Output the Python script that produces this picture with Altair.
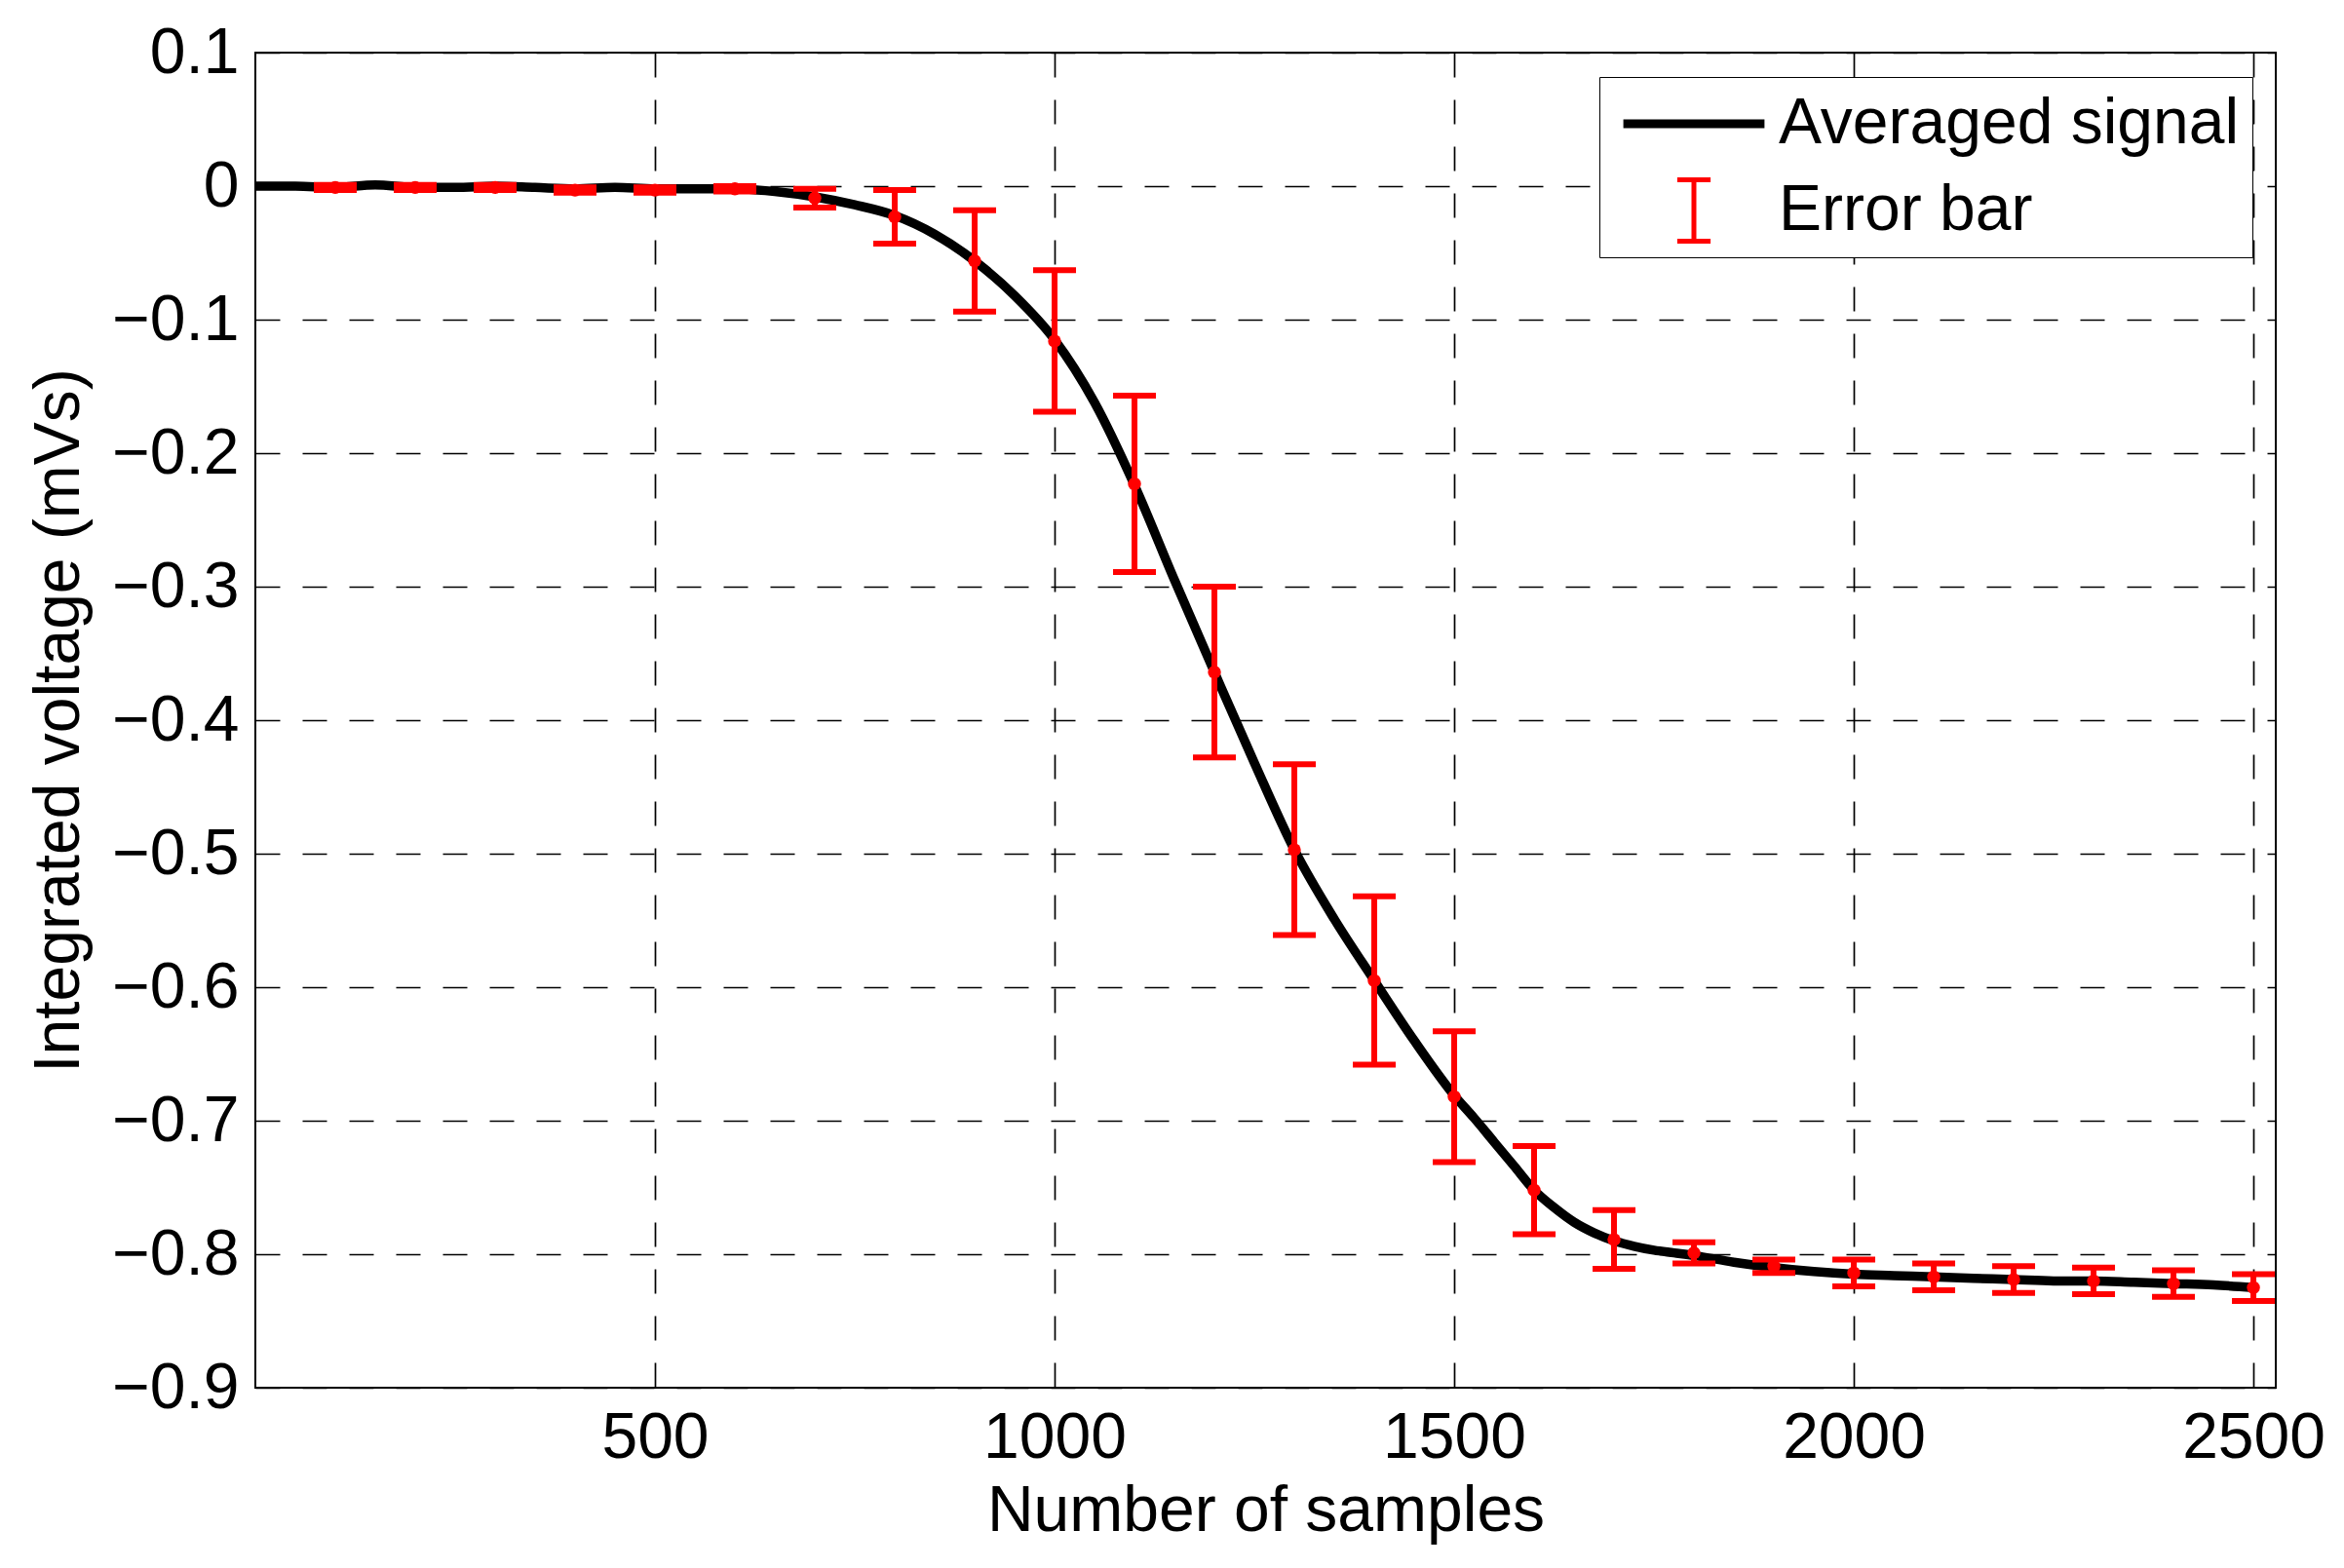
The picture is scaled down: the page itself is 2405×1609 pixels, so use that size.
import altair as alt
import pandas as pd

# ---- data ----
line_x = [0, 50, 100, 150, 200, 250, 300, 350, 400, 450,
          500, 550, 600, 650, 700, 750, 800, 850, 900, 950,
          1000, 1050, 1100, 1150, 1200, 1250, 1300, 1350, 1400, 1450,
          1500, 1525, 1550, 1575, 1600, 1625, 1650, 1675, 1700, 1725,
          1750, 1775, 1800, 1850, 1900, 1950, 2000, 2050, 2100, 2150,
          2200, 2250, 2300, 2350, 2400, 2450, 2500]
line_y = [0.000, 0.000, -0.001, 0.001, -0.001, -0.001, 0.000, -0.001, -0.002, -0.001,
          -0.002, -0.002, -0.002, -0.004, -0.008, -0.014, -0.022, -0.036, -0.056, -0.082,
          -0.115, -0.162, -0.224, -0.295, -0.364, -0.432, -0.497, -0.549, -0.595, -0.640,
          -0.681, -0.698, -0.716, -0.734, -0.752, -0.765, -0.776, -0.784, -0.790, -0.794,
          -0.797, -0.799, -0.801, -0.806, -0.810, -0.813, -0.815, -0.816, -0.817, -0.818,
          -0.819, -0.820, -0.820, -0.821, -0.822, -0.823, -0.825]

err_x = list(range(100, 2501, 100))
err_mean = [-0.001, -0.001, -0.001, -0.003, -0.003, -0.002, -0.009, -0.023, -0.056, -0.116,
            -0.223, -0.364, -0.497, -0.595, -0.682, -0.752, -0.789, -0.799, -0.809, -0.814,
            -0.817, -0.819, -0.820, -0.822, -0.825]
err_half = [0.002, 0.002, 0.002, 0.002, 0.002, 0.002, 0.007, 0.020, 0.038, 0.053,
            0.066, 0.064, 0.064, 0.063, 0.049, 0.033, 0.022, 0.008, 0.005, 0.010,
            0.010, 0.010, 0.010, 0.010, 0.010]

x_ticks = [500, 1000, 1500, 2000, 2500]
y_ticks = [-0.9, -0.8, -0.7, -0.6, -0.5, -0.4, -0.3, -0.2, -0.1, 0.0, 0.1]
series_names = ["Averaged signal", "Error bar"]
series_colors = ["black", "red"]

line_df = pd.DataFrame({"x": line_x, "y": line_y})
err_df = pd.DataFrame({
    "x": err_x,
    "mean": err_mean,
    "lo": [m - h for m, h in zip(err_mean, err_half)],
    "hi": [m + h for m, h in zip(err_mean, err_half)],
    "series": series_names[1],
})

FONT = "Liberation Sans"
FS = 66

# legend glyphs (unit-square paths, scaled by sqrt(symbolSize)/2)
ERR_PATH = "M-0.57,-1.05H0.57M0,-1.05V1.05M-0.57,1.05H0.57"
LINE_PATH = "M-2.33,-0.07H2.33V0.07H-2.33Z"

x_scale = alt.Scale(domain=[0, 2528], nice=False, zero=False)
y_scale = alt.Scale(domain=[-0.9, 0.1], nice=False, zero=False)

x_axis = alt.Axis(values=x_ticks, title="Number of samples", labelFlush=False,
                  labelOverlap=False, labelPadding=19, titlePadding=10, format="d")
y_axis = alt.Axis(values=y_ticks, title="Integrated voltage (mVs)", labelFlush=False,
                  labelOverlap=False, labelPadding=17, titlePadding=20,
                  labelExpr="abs(datum.value) < 1e-9 ? '0' : replace(format(datum.value, '.1f'), '-', '\u2212')")

legend = alt.Legend(
    title=None, orient="none", legendX=1379, legendY=25,
    strokeColor="black", fillColor="white", padding=13,
    labelFont=FONT, labelFontSize=FS, labelColor="black", labelLimit=0,
    symbolSize=3600, symbolStrokeWidth=5, symbolOffset=51, labelOffset=54,
    rowPadding=19, clipHeight=70,
)

line = alt.Chart(line_df).mark_line(strokeWidth=9.5, interpolate="monotone",
                                    color="black").encode(
    x=alt.X("x:Q", scale=x_scale, axis=x_axis),
    y=alt.Y("y:Q", scale=y_scale, axis=y_axis),
)

stems = alt.Chart(err_df).mark_rule(strokeWidth=6, color="red").encode(
    x="x:Q", y="lo:Q", y2="hi:Q",
)
caps_lo = alt.Chart(err_df).mark_tick(orient="horizontal", size=44, thickness=6,
                                      color="red", opacity=1).encode(x="x:Q", y="lo:Q")
caps_hi = alt.Chart(err_df).mark_tick(orient="horizontal", size=44, thickness=6,
                                      color="red", opacity=1).encode(x="x:Q", y="hi:Q")
centers = alt.Chart(err_df).mark_point(filled=True, shape="circle", size=180,
                                       color="red", opacity=1).encode(x="x:Q", y="mean:Q")

# invisible layer that only carries the legend (colour + glyph per series)
legend_layer = alt.Chart(err_df).mark_point(filled=False, opacity=0).encode(
    x="x:Q", y="mean:Q",
    color=alt.Color("series:N", scale=alt.Scale(domain=series_names, range=series_colors),
                    legend=legend),
    shape=alt.Shape("series:N", scale=alt.Scale(domain=series_names,
                                                range=[LINE_PATH, ERR_PATH]),
                    legend=legend),
)

chart = alt.layer(line, stems, caps_lo, caps_hi, centers, legend_layer).properties(
    width=2073, height=1370,
    autosize=alt.AutoSizeParams(type="none"),
    padding={"left": 254, "top": 46, "right": 62, "bottom": 177},
    background="white",
).configure_view(
    stroke="black", strokeWidth=2,
).configure_axis(
    labelFont=FONT, labelFontSize=FS, labelColor="black",
    titleFont=FONT, titleFontSize=FS, titleFontWeight="normal", titleColor="black",
    ticks=False, domain=False,
    grid=True, gridColor="black", gridDash=[25, 23], gridWidth=1.7, gridOpacity=1,
)

chart.save("out.html", embed_options={"renderer": "svg", "actions": False})
